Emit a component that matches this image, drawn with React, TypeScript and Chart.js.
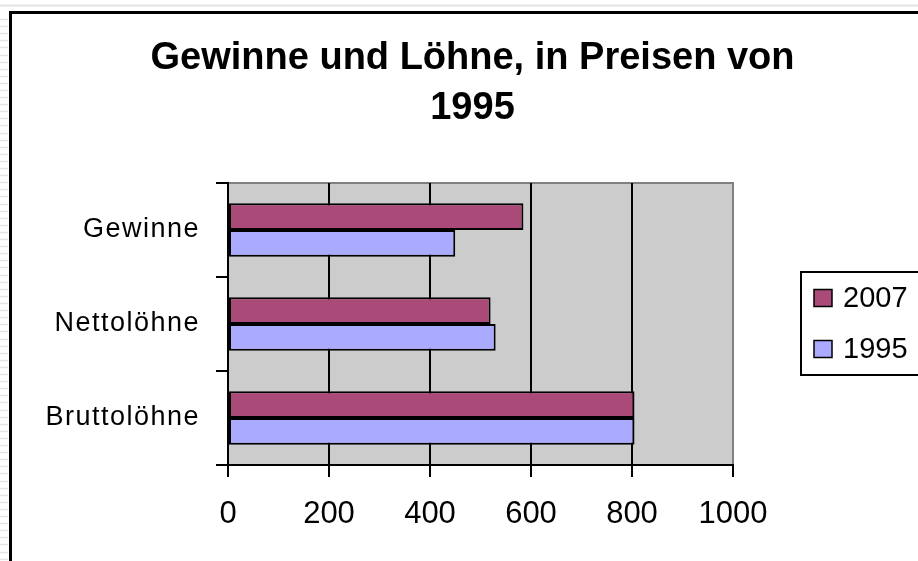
import React, { useEffect, useRef } from "react";
import { Chart, registerables } from "chart.js";

Chart.register(...registerables);

const categories = ["Gewinne", "Nettolöhne", "Bruttolöhne"];
const series2007 = [585, 520, 805];
const series1995 = [450, 530, 805];
const seriesLabels = ["2007", "1995"];
const seriesColors = ["#AA4A78", "#AAAAFF"];
const titleLines = ["Gewinne und Löhne, in Preisen von", "1995"];
const xMin = 0;
const xMax = 1000;
const xStep = 200;

const FONT = "'Liberation Sans', Arial, sans-serif";
const TITLE_FONT = "Arial, 'Liberation Sans', sans-serif";

const decorPlugin = {
  id: "decor",
  afterLayout(chart: any) {
    const y = chart.scales.y;
    if (y && !y.__patched) {
      const orig = y.drawLabels;
      y.drawLabels = function (area: any) {
        const ctx = this.ctx;
        ctx.save();
        ctx.letterSpacing = "1.5px";
        orig.call(this, area);
        ctx.restore();
      };
      y.__patched = true;
    }
  },
  beforeDraw(chart: any) {
    const { ctx, chartArea, width, height } = chart;
    ctx.save();
    ctx.fillStyle = "#ffffff";
    ctx.fillRect(0, 0, width, height);
    // page artifacts
    ctx.strokeStyle = "#e4e4e4";
    ctx.lineWidth = 2;
    ctx.beginPath();
    ctx.moveTo(0, 5.5);
    ctx.lineTo(width, 5.5);
    ctx.stroke();
    ctx.lineWidth = 1.5;
    for (let y = 19; y < height; y += 7.1) {
      ctx.beginPath();
      ctx.moveTo(0, Math.round(y) + 0.5);
      ctx.lineTo(8, Math.round(y) + 0.5);
      ctx.stroke();
    }
    // outer frame
    ctx.strokeStyle = "#000";
    ctx.lineWidth = 3;
    ctx.beginPath();
    ctx.moveTo(10.5, height + 2);
    ctx.lineTo(10.5, 12.5);
    ctx.lineTo(width + 2, 12.5);
    ctx.stroke();
    // plot background
    ctx.fillStyle = "#CCCCCC";
    ctx.fillRect(chartArea.left, chartArea.top, chartArea.right - chartArea.left, chartArea.bottom - chartArea.top);
    ctx.strokeStyle = "#808080";
    ctx.lineWidth = 2;
    ctx.beginPath();
    ctx.moveTo(chartArea.left, chartArea.top);
    ctx.lineTo(chartArea.right + 1, chartArea.top);
    ctx.stroke();
    ctx.restore();
  },
  afterDraw(chart: any) {
    const { ctx, chartArea } = chart;
    ctx.save();
    // title
    ctx.fillStyle = "#000";
    ctx.font = `bold 38px ${TITLE_FONT}`;
    ctx.textAlign = "center";
    ctx.textBaseline = "middle";
    const tx = (chartArea.left + chartArea.right) / 2 - 8;
    titleLines.forEach((line, i) => {
      ctx.fillText(line, tx, 59 + i * 50);
    });
    // legend
    const left = chartArea.right + 68;
    const top = chartArea.top + 89;
    const boxH = 103;
    ctx.fillStyle = "#fff";
    ctx.fillRect(left, top, 140, boxH);
    ctx.strokeStyle = "#000";
    ctx.lineWidth = 2;
    ctx.strokeRect(left, top, 140, boxH);
    ctx.font = `29px ${FONT}`;
    ctx.textBaseline = "middle";
    ctx.textAlign = "left";
    chart.data.datasets.forEach((ds: any, i: number) => {
      const cy = top + 26 + i * 51;
      ctx.fillStyle = ds.backgroundColor;
      ctx.fillRect(left + 13, cy - 8.5, 18, 17);
      ctx.strokeStyle = "#000";
      ctx.lineWidth = 1.5;
      ctx.strokeRect(left + 13, cy - 8.5, 18, 17);
      ctx.fillStyle = "#000";
      ctx.fillText(ds.label, left + 42, cy + 1);
    });
    ctx.restore();
  },
};

export default function App() {
  const ref = useRef<HTMLCanvasElement>(null);
  useEffect(() => {
    if (!ref.current) return;
    const chart = new Chart(ref.current, {
      type: "bar",
      data: {
        labels: categories,
        datasets: [
          { label: seriesLabels[0], data: series2007, backgroundColor: seriesColors[0] },
          { label: seriesLabels[1], data: series1995, backgroundColor: seriesColors[1] },
        ],
      },
      options: {
        indexAxis: "y",
        responsive: false,
        animation: false,
        layout: { padding: { left: 0, right: 185, top: 183, bottom: 0 } },
        datasets: {
          bar: {
            borderColor: "#000",
            borderWidth: 2,
            borderSkipped: false,
            categoryPercentage: 0.57,
            barPercentage: 1,
          },
        },
        plugins: {
          legend: { display: false },
          tooltip: { enabled: false },
          title: { display: false },
        },
        scales: {
          x: {
            type: "linear",
            min: xMin,
            max: xMax,
            afterFit(scale: any) {
              scale.height = 96;
            },
            ticks: {
              stepSize: xStep,
              color: "#000",
              font: { family: FONT, size: 31 },
              padding: 19,
              maxRotation: 0,
              callback: (v: any) => String(v),
            },
            grid: {
              color: (c: any) => (c.tick && c.tick.value === xMax ? "#808080" : "#000"),
              tickColor: "#000",
              lineWidth: 2,
              tickLength: 12,
            },
            border: { display: true, color: "#000", width: 2 },
          },
          y: {
            type: "category",
            offset: true,
            afterFit(scale: any) {
              scale.width = 228;
            },
            ticks: {
              color: "#000",
              font: { family: FONT, size: 27 },
              padding: 16,
            },
            grid: {
              offset: true,
              drawOnChartArea: false,
              color: "#000",
              lineWidth: 2,
              tickLength: 12,
            },
            border: { display: true, color: "#000", width: 2 },
          },
        },
      },
      plugins: [decorPlugin],
    });
    return () => chart.destroy();
  }, []);
  return (
    <div style={{ position: "fixed", left: 0, top: 0, width: 918, height: 561, background: "#fff" }}>
      <canvas ref={ref} width={918} height={561} style={{ display: "block" }} />
    </div>
  );
}
